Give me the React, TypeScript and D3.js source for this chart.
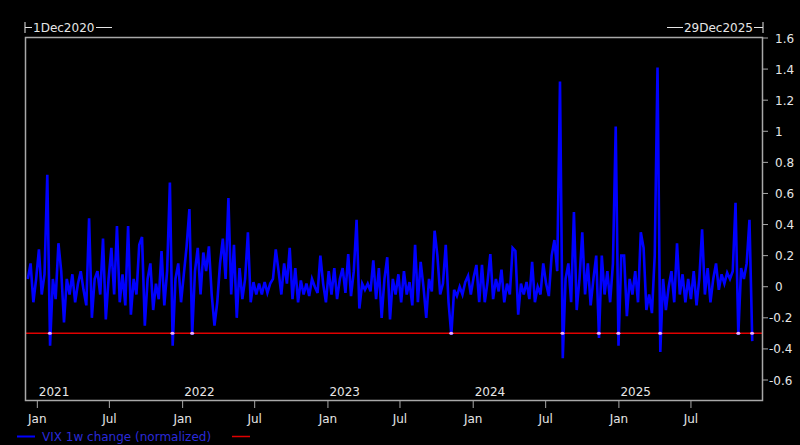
import React from "react";
import * as d3 from "d3";

// Weekly observations starting 8 Dec 2020
const seriesStart = "2020-12-08";
const seriesName = "VIX 1w change (normalized)";
const vixValues: number[] = [
  0.05, 0.15, -0.1, 0.05, 0.24, -0.05, 0.08, 0.72, -0.38, 0.05,
  -0.08, 0.28, 0.1, -0.23, 0.05, -0.05, 0.08, -0.1, 0.02, 0.1,
  -0.02, -0.12, 0.44, -0.2, 0.05, 0.1, -0.05, 0.31, -0.21, 0.05,
  0.25, -0.05, 0.39, -0.1, 0.08, -0.12, 0.39, -0.18, 0.05, -0.05,
  0.27, 0.32, -0.25, 0.05, 0.15, -0.15, 0.02, -0.08, 0.23, -0.12,
  0.1, 0.67, -0.38, 0.05, 0.15, -0.1, 0.08, 0.26, 0.5, -0.31,
  0.1, 0.25, -0.05, 0.22, 0.1, 0.26, -0.05, -0.25, -0.1, 0.15,
  0.31, 0.05, 0.57, -0.05, 0.27, -0.2, 0.12, -0.08, 0.05, 0.35,
  -0.1, 0.03, -0.05, 0.02, -0.05, 0.03, -0.04, 0.02, 0.05, 0.24,
  0.1, -0.05, 0.15, 0.02, 0.25, -0.08, 0.12, -0.1, 0.04, -0.05,
  0.02, -0.06, 0.05, 0.0, -0.04, 0.2, 0.02, -0.1, 0.1, -0.05,
  0.12, -0.08, 0.05, 0.12, -0.04, 0.21, -0.06, 0.1, 0.43, -0.14,
  0.02, -0.02, 0.02, -0.03, 0.17, -0.08, 0.12, -0.2, 0.05, 0.19,
  -0.21, 0.05, -0.05, 0.08, -0.1, 0.1, -0.05, 0.03, -0.12, 0.27,
  -0.1, 0.16, 0.0, -0.2, 0.05, -0.03, 0.36, 0.2, -0.05, 0.02,
  0.27, -0.1, -0.31, -0.02, -0.06, 0.0, -0.05, 0.03, 0.07, -0.05,
  0.06, 0.14, -0.1, 0.14, -0.1, 0.03, 0.21, -0.08, 0.05, -0.03,
  0.11, -0.1, 0.02, -0.05, 0.25, 0.23, -0.18, 0.02, -0.05, 0.03,
  -0.08, 0.16, -0.1, 0.0, -0.05, 0.15, 0.02, -0.06, 0.2, 0.3,
  0.1, 1.32, -0.46, 0.05, 0.15, -0.1, 0.48, -0.15, 0.05, 0.35,
  -0.05, 0.15, -0.12, 0.05, 0.2, -0.33, 0.2, -0.05, 0.1, -0.1,
  0.15, 1.03, -0.38, 0.2, 0.2, -0.19, 0.05, -0.05, 0.1, -0.1,
  0.35, 0.25, -0.15, -0.05, -0.17, 0.2, 1.41, -0.42, 0.05, -0.15,
  0.0, 0.1, -0.1, 0.28, -0.05, 0.08, -0.1, 0.05, -0.08, 0.1,
  -0.12, 0.05, 0.37, -0.05, 0.12, -0.1, 0.05, 0.15, -0.02, 0.08,
  0.02, 0.09, 0.05, 0.1, 0.54, -0.31, 0.12, 0.05, 0.15, 0.43,
  -0.35,
];
const threshold = -0.3;
const yTicks = [1.6, 1.4, 1.2, 1, 0.8, 0.6, 0.4, 0.2, 0, -0.2, -0.4, -0.6];
const domainStart = "2020-12-01";
const domainEnd = "2025-12-29";
const startLabel = "1Dec2020";
const endLabel = "29Dec2025";
const monthTicks = [
  "2021-01-01", "2021-07-01", "2022-01-01", "2022-07-01", "2023-01-01",
  "2023-07-01", "2024-01-01", "2024-07-01", "2025-01-01", "2025-07-01",
];
const yearLabels = ["2021", "2022", "2023", "2024", "2025"];

const W = 800;
const H = 445;
const L = 25, R = 763, T = 37, B = 401;
const FONT = "DejaVu Sans, Verdana, sans-serif";
const TXT = "#e6e6e6";
const AX = "#a8a8a8";

export default function App() {
  const parse = d3.utcParse("%Y-%m-%d");
  const x = d3.scaleUtc().domain([parse(domainStart)!, parse(domainEnd)!]).range([L, R]);
  const y = d3.scaleLinear().domain([-0.6, 1.6]).range([380, 38]);
  const s0 = parse(seriesStart)!;
  const data = vixValues.map((v, i) => ({ d: d3.utcDay.offset(s0, 7 * i), v }));
  const line = d3.line<{ d: Date; v: number }>().x((p) => x(p.d)).y((p) => y(p.v));

  // crossings of threshold
  const marks: { cx: number }[] = [];
  for (let i = 1; i < data.length; i++) {
    const a = data[i - 1], b = data[i];
    if ((a.v - threshold) * (b.v - threshold) < 0) {
      const t = (threshold - a.v) / (b.v - a.v);
      const cx = x(a.d) + t * (x(b.d) - x(a.d));
      if (!marks.length || Math.abs(marks[marks.length - 1].cx - cx) > 2.5) marks.push({ cx });
    }
  }
  const ty = y(threshold);

  return (
    <svg width={W} height={H} style={{ position: "absolute", left: 0, top: 0, background: "#000" }}
      fontFamily={FONT} fontSize={12}>
      <rect x={0} y={0} width={W} height={H} fill="#000" />
      {/* top date range labels */}
      <line x1={L} x2={L} y1={22} y2={33} stroke={TXT} strokeWidth={1} />
      <line x1={L} x2={32} y1={27.5} y2={27.5} stroke={TXT} strokeWidth={1} />
      <text x={33} y={32} fill={TXT}>{startLabel}</text>
      <line x1={96} x2={112} y1={27.5} y2={27.5} stroke={TXT} strokeWidth={1} />
      <line x1={667} x2={683} y1={27.5} y2={27.5} stroke={TXT} strokeWidth={1} />
      <text x={753} y={32} fill={TXT} textAnchor="end">{endLabel}</text>
      <line x1={754} x2={R} y1={27.5} y2={27.5} stroke={TXT} strokeWidth={1} />
      <line x1={R} x2={R} y1={22} y2={33} stroke={TXT} strokeWidth={1} />

      {/* threshold */}
      <line x1={L} x2={R} y1={ty} y2={ty} stroke="#e00000" strokeWidth={1.5} />
      {/* series */}
      <path d={line(data) ?? ""} fill="none" stroke="#0000ff" strokeWidth={2.6} strokeLinejoin="miter" />
      {marks.map((m, i) => (
        <ellipse key={i} cx={m.cx} cy={ty} rx={2} ry={1.5} fill="#f0b0f0" />
      ))}

      {/* frame */}
      <rect x={L + 0.5} y={T + 0.5} width={R - L - 1} height={B - T - 1} fill="none" stroke={AX} strokeWidth={1.5} />

      {/* y axis */}
      {yTicks.map((t) => (
        <g key={t}>
          <line x1={R} x2={R + 5} y1={y(t)} y2={y(t)} stroke={AX} />
          <text x={t < 0 ? 769 : 775} y={y(t) + 4.5} fill={TXT}>{t < 0 ? "-" + Math.abs(t) : String(t)}</text>
        </g>
      ))}

      {/* x axis */}
      {monthTicks.map((m) => {
        const d = parse(m)!;
        const px = x(d);
        return (
          <g key={m}>
            <line x1={px} x2={px} y1={B} y2={B + 7} stroke={AX} />
            <text x={px} y={423} fill={TXT} textAnchor="middle">{d.getUTCMonth() === 0 ? "Jan" : "Jul"}</text>
          </g>
        );
      })}
      {yearLabels.map((yr) => (
        <text key={yr} x={x(parse(yr + "-01-01")!) + 1.5} y={396} fill={TXT}>{yr}</text>
      ))}

      {/* legend */}
      <line x1={17} x2={35} y1={436.5} y2={436.5} stroke="#0000ff" strokeWidth={2} />
      <text x={42} y={441} fill="#2a2ad8">{seriesName}</text>
      <line x1={232} x2={250} y1={436.5} y2={436.5} stroke="#e00000" strokeWidth={1.5} />
    </svg>
  );
}
